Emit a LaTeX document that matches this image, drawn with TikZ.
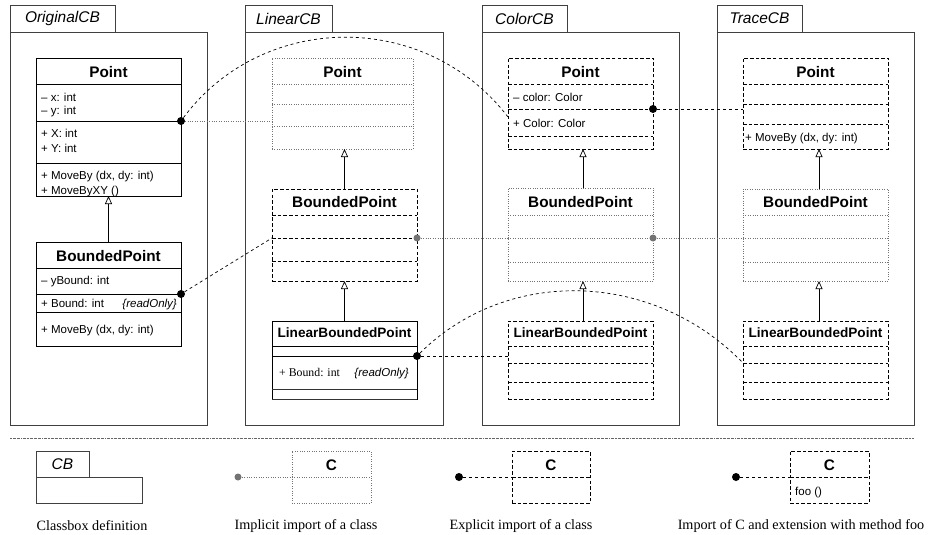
\documentclass[tikz,border=0pt]{standalone}
\usepackage{fontspec}
\setmainfont{Liberation Serif}
\setsansfont{Liberation Sans}
\usetikzlibrary{arrows.meta}
\begin{document}
\begin{tikzpicture}[x=1pt,y=-1pt,
  frame/.style={draw=black!75, line width=0.9pt, anchor=north west, inner sep=0pt, outer sep=0pt},
  lnsolid/.style={draw=black, line width=0.7pt},
  lndash/.style={draw=black, line width=0.7pt, dash pattern=on 3.5pt off 2.2pt},
  lndot/.style={draw=black!55, line width=0.7pt, dash pattern=on 0.8pt off 1.6pt},
  box/.style={rectangle, anchor=north west, inner sep=0pt, outer sep=0pt},
  solidc/.style={box, lnsolid},
  dashc/.style={box, lndash},
  dotc/.style={box, lndot},
  cname/.style={font=\sffamily\bfseries\fontsize{15.3}{18}\selectfont, inner sep=0pt},
  lname/.style={font=\sffamily\bfseries\fontsize{13.6}{16}\selectfont, inner sep=0pt},
  attr/.style={font=\sffamily\fontsize{11.5}{13}\selectfont, anchor=west, inner sep=0pt, text height=9pt, text depth=0pt},
  ro/.style={font=\sffamily\itshape\fontsize{11.5}{13}\selectfont, anchor=east, inner sep=0pt, text height=9pt, text depth=0pt},
  tabtext/.style={font=\sffamily\itshape\fontsize{15.5}{18}\selectfont},
  caption/.style={font=\fontsize{14.2}{17}\selectfont, inner sep=0pt},
  impl/.style={lndot},
  expl/.style={draw=black, line width=0.7pt, dash pattern=on 3pt off 3pt},
  bdot/.style={circle, fill=black, inner sep=0pt, minimum size=8pt},
  gdot/.style={circle, fill=black!55, inner sep=0pt, minimum size=7pt},
  inh/.style={draw=black, line width=0.7pt, -{Triangle[open,length=8pt,width=7pt]}}
]
\path[use as bounding box, fill=white] (0,0) rectangle (930,535);

% ---------------- OriginalCB ----------------
\node[frame, minimum width=105pt, minimum height=27pt, tabtext] (oTab) at (10,5) {OriginalCB};
\node[frame, minimum width=197pt, minimum height=393pt] (oBox) at (10,32) {};
\node[solidc, minimum width=145pt, minimum height=138pt] (oPoint) at (36,58) {};
\draw[lnsolid] (36,84) -- (181,84) (36,121) -- (181,121) (36,163) -- (181,163);
\node[cname] (oPointN) at (108.5,72) {Point};
\node[attr] (oA1) at (41,97) {– x: int};
\node[attr] (oA2) at (41,109.5) {– y: int};
\node[attr] (oA3) at (41,133) {+ X: int};
\node[attr] (oA4) at (41,148) {+ Y: int};
\node[attr] (oA5) at (41,175) {+ MoveBy (dx, dy: int)};
\node[attr] (oA6) at (41,190) {+ MoveByXY ()};
\node[solidc, minimum width=145pt, minimum height=104pt] (oBP) at (36,242) {};
\draw[lnsolid] (36,268) -- (181,268) (36,294) -- (181,294) (36,312) -- (181,312);
\node[cname] (oBPN) at (108.5,256) {BoundedPoint};
\node[attr] (oB1) at (41,280) {– yBound: int};
\node[attr] (oB2) at (41,303) {+ Bound: int};
\node[ro] (oB3) at (177,303) {\{readOnly\}};
\node[attr] (oB4) at (41,329) {+ MoveBy (dx, dy: int)};
\draw[inh] (oBP.north) -- (oPoint.south);
\node[bdot] (oD1) at (181,121) {};
\node[bdot] (oD2) at (181,294) {};

% ---------------- LinearCB ----------------
\node[frame, minimum width=87pt, minimum height=27pt, tabtext] (lTab) at (245,5) {LinearCB};
\node[frame, minimum width=198pt, minimum height=393pt] (lBox) at (245,32) {};
\node[dotc, minimum width=141pt, minimum height=91pt] (lPoint) at (272,58) {};
\draw[lndot] (272,84) -- (413,84) (272,104) -- (413,104) (272,126) -- (413,126);
\node[cname] (lPointN) at (342.5,72) {Point};
\node[dashc, minimum width=145pt, minimum height=92pt] (lBP) at (272,189) {};
\draw[lndash] (272,215) -- (417,215) (272,238) -- (417,238) (272,261) -- (417,261);
\node[cname] (lBPN) at (344.5,202) {BoundedPoint};
\node[solidc, minimum width=145pt, minimum height=78pt] (lLBP) at (272,321) {};
\draw[lnsolid] (272,346) -- (417,346) (272,356) -- (417,356);
\draw[draw=black!80, line width=1pt] (272,389) -- (417,389);
\draw[draw=black!80, line width=1pt] (272,399) -- (417,399);
\node[lname] (lLBPN) at (344.5,333) {LinearBoundedPoint};
\node[attr, font=\fontsize{11.8}{13}\selectfont] (lL1) at (279,372) {+ Bound: int};
\node[ro] (lL2) at (409,372) {\{readOnly\}};
\draw[inh] (lBP.north) -- (lBP.north |- lPoint.south);
\draw[inh] (lLBP.north) -- (lBP.south);
\node[gdot] (lD1) at (417,238) {};
\node[bdot] (lD2) at (417,356) {};

% ---------------- ColorCB ----------------
\node[frame, minimum width=85pt, minimum height=27pt, tabtext] (cTab) at (482,5) {ColorCB};
\node[frame, minimum width=197pt, minimum height=393pt] (cBox) at (482,32) {};
\node[dashc, minimum width=145pt, minimum height=91pt] (cPoint) at (508,58) {};
\draw[lndash] (508,84) -- (653,84) (508,109) -- (653,109) (508,136) -- (653,136);
\node[cname] (cPointN) at (580.5,72) {Point};
\node[attr] (cA1) at (513,97) {– color: Color};
\node[attr] (cA2) at (513,123) {+ Color: Color};
\node[dotc, minimum width=145pt, minimum height=93pt] (cBP) at (508,188) {};
\draw[lndot] (508,215) -- (653,215) (508,238) -- (653,238) (508,262) -- (653,262);
\node[cname] (cBPN) at (580.5,202) {BoundedPoint};
\node[dashc, minimum width=145pt, minimum height=78pt] (cLBP) at (508,321) {};
\draw[lndash] (508,346) -- (653,346) (508,363) -- (653,363) (508,382) -- (653,382);
\node[lname] (cLBPN) at (580.5,333) {LinearBoundedPoint};
\draw[inh] ([xshift=2.5pt]cBP.north) -- ([xshift=2.5pt]cPoint.south);
\draw[inh] ([xshift=2.5pt]cLBP.north) -- ([xshift=2.5pt]cBP.south);
\node[bdot] (cD1) at (653,109) {};
\node[gdot] (cD2) at (653,238) {};

% ---------------- TraceCB ----------------
\node[frame, minimum width=85pt, minimum height=27pt, tabtext] (tTab) at (717,5) {TraceCB};
\node[frame, minimum width=197pt, minimum height=393pt] (tBox) at (717,32) {};
\node[dashc, minimum width=145pt, minimum height=91pt] (tPoint) at (743,58) {};
\draw[lndash] (743,84) -- (888,84) (743,104) -- (888,104) (743,124) -- (888,124);
\node[cname] (tPointN) at (815.5,72) {Point};
\node[attr] (tA1) at (745,137) {+ MoveBy (dx, dy: int)};
\node[dotc, minimum width=145pt, minimum height=92pt] (tBP) at (743,189) {};
\draw[lndot] (743,215) -- (888,215) (743,238) -- (888,238) (743,262) -- (888,262);
\node[cname] (tBPN) at (815.5,202) {BoundedPoint};
\node[dashc, minimum width=145pt, minimum height=78pt] (tLBP) at (743,321) {};
\draw[lndash] (743,346) -- (888,346) (743,363) -- (888,363) (743,382) -- (888,382);
\node[lname] (tLBPN) at (815.5,333) {LinearBoundedPoint};
\draw[inh] ([xshift=3.5pt]tBP.north) -- ([xshift=3.5pt]tPoint.south);
\draw[inh] ([xshift=3.5pt]tLBP.north) -- ([xshift=3.5pt]tBP.south);

% ---------------- connectors ----------------
\coordinate (cPointIn) at (508,117);
\coordinate (lBPIn) at (272,238);
\coordinate (tLBPIn) at (743,363);
\draw[impl] (oD1) -- (oD1 -| lPoint.west);
\draw[expl] (oD1) .. controls (262,12) and (425,9) .. (cPointIn);
\draw[expl] (oD2) -- (lBPIn);
\draw[impl] (lD1) -- (lD1 -| cBP.west);
\draw[expl] (lD2) -- (lD2 -| cLBP.west);
\draw[expl] (lD2) .. controls (508,266) and (654,271) .. (tLBPIn);
\draw[expl] (cD1) -- (cD1 -| tPoint.west);
\draw[impl] (cD2) -- (cD2 -| tBP.west);

% ---------------- legend ----------------
\draw[draw=black!60, line width=0.6pt, dash pattern=on 2pt off 0.8pt on 0.6pt off 0.8pt] (10,438) -- (914,438);

\node[frame, minimum width=53pt, minimum height=26pt, tabtext] (gTab) at (36,451) {CB};
\node[frame, minimum width=106pt, minimum height=26pt] (gBox) at (36,477) {};
\node[caption] (gCap1) at (92,526) {Classbox definition};

\node[dotc, minimum width=79pt, minimum height=52pt] (gImp) at (292,451) {};
\draw[lndot] (292,477) -- (371,477);
\node[cname] (gImpN) at (331.5,465) {C};
\node[gdot] (gImpD) at (238,477) {};
\draw[impl] (gImpD) -- (gImpD -| gImp.west);
\node[caption] (gCap2) at (306,526) {Implicit import of a class};

\node[dashc, minimum width=78pt, minimum height=52pt] (gExp) at (512,451) {};
\draw[lndash] (512,477) -- (590,477);
\node[cname] (gExpN) at (551,465) {C};
\node[bdot] (gExpD) at (459,477) {};
\draw[expl] (gExpD) -- (gExpD -| gExp.west);
\node[caption] (gCap3) at (521,526) {Explicit import of a class};

\node[dashc, minimum width=79pt, minimum height=52pt] (gExt) at (790,451) {};
\draw[lndash] (790,477) -- (869,477);
\node[cname] (gExtN) at (829.5,465) {C};
\node[attr] (gExtA) at (795,491) {foo ()};
\node[bdot] (gExtD) at (736,477) {};
\draw[expl] (gExtD) -- (gExtD -| gExt.west);
\node[caption] (gCap4) at (801,526) {Import of C and extension with method foo};
\end{tikzpicture}
\end{document}
